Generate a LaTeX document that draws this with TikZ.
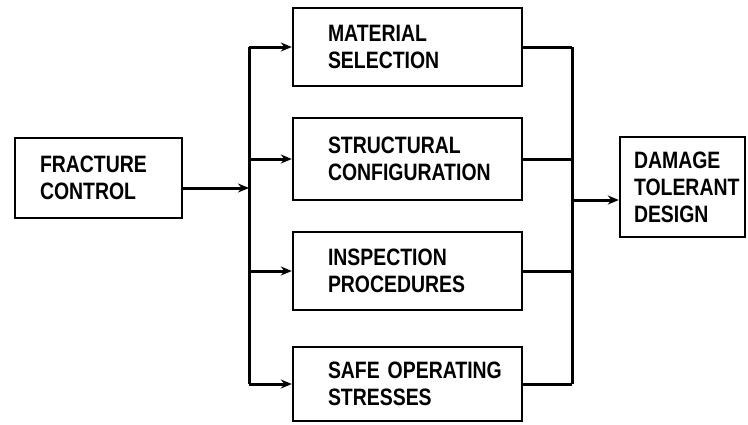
\documentclass[tikz,border=0pt]{standalone}
\usepackage{fontspec}
\newfontfamily\boxfont{Liberation Sans}[FakeStretch=0.82]
\usetikzlibrary{arrows.meta}
\tikzset{
  blk/.style={draw, line width=2.4pt, inner sep=0pt, align=left,
    font=\boxfont\bfseries\fontsize{23.7}{27}\selectfont},
  mid/.style={blk, text width=229pt, execute at begin node={\leftskip=35pt}},
  link/.style={line width=3pt},
  tip/.style={link, -{Stealth[length=11pt,width=9pt]}}
}

\begin{document}
\begin{tikzpicture}[x=1pt,y=-1pt]
  \useasboundingbox (0,0) rectangle (748,424);
  % input and outcome
  \node[blk, text width=167pt, minimum height=80pt,
    execute at begin node={\leftskip=25pt}] (fc) at (98.5,178) {FRACTURE\\CONTROL};
  \node[blk, text width=125pt, minimum height=100pt,
    execute at begin node={\leftskip=14pt}] (dtd) at (682.5,187) {DAMAGE\\TOLERANT\\DESIGN};
  % the four elements
  \node[mid, minimum height=78pt] (ms) at (407.5,47) {MATERIAL\\SELECTION};
  \node[mid, minimum height=82pt] (sc) at (407.5,159) {STRUCTURAL\\CONFIGURATION};
  \node[mid, minimum height=78pt] (ip) at (407.5,271) {INSPECTION\\PROCEDURES};
  \node[mid, minimum height=74pt] (so) at (407.5,384) {SAFE OPERATING\\STRESSES};
  % buses
  \coordinate (lt) at (249,47);
  \coordinate (rt) at (572,47);
  \draw[link] (ms.west -| lt) -- (so.west -| lt);
  \draw[link] (ms.east -| rt) -- (so.east -| rt);
  \draw[tip] ([yshift=-10pt]fc.east) -- ([yshift=-10pt]fc.east -| lt);
  \foreach \n in {ms,sc,ip,so} {
    \draw[tip] (\n.west -| lt) -- (\n.west);
    \draw[link] (\n.east) -- (\n.east -| rt);
  }
  \draw[tip] ([yshift=-13pt]dtd.west -| rt) -- ([yshift=-13pt]dtd.west);
\end{tikzpicture}
\end{document}
